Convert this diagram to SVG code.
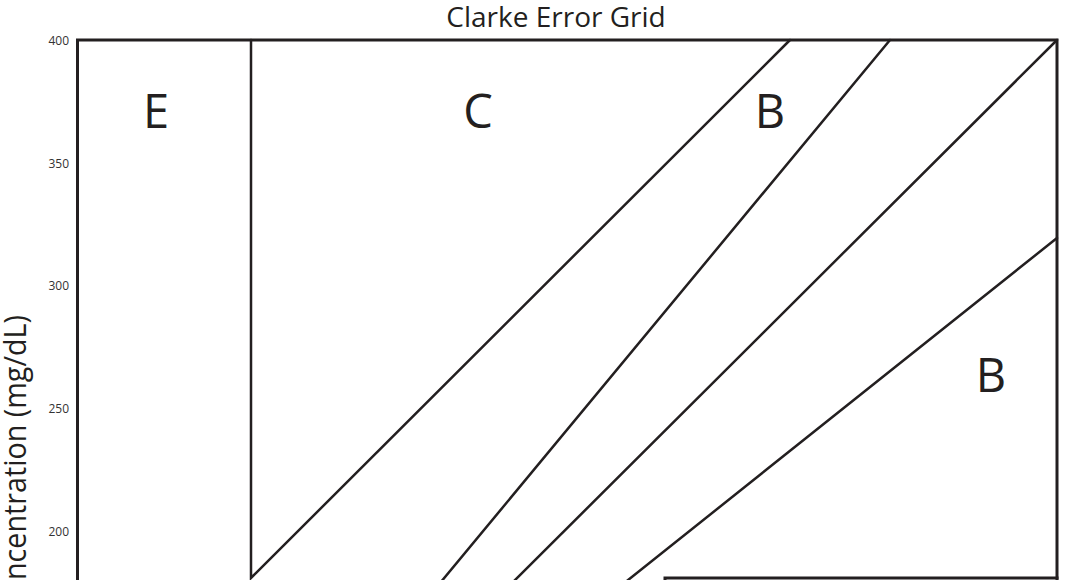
<svg xmlns="http://www.w3.org/2000/svg" width="1068" height="580" viewBox="0 0 1068 580">
  <style>
    .frame { fill: none; stroke: #231f20; stroke-width: 3; stroke-linecap: square; }
    .zone { fill: none; stroke: #231f20; stroke-width: 2.5; stroke-linecap: round; }
    .title { font-family: "Open Sans", "Noto Sans", "Liberation Sans", sans-serif; font-size: 28px; fill: #231f20; text-anchor: middle; }
    .axis { font-family: "Open Sans", "Noto Sans", "Liberation Sans", sans-serif; font-size: 31px; fill: #231f20; }
    .tick { font-family: "Open Sans", "Noto Sans", "Liberation Sans", sans-serif; font-size: 12px; fill: #333333; text-anchor: end; }
    .region { font-family: "Open Sans", "Noto Sans", "Liberation Sans", sans-serif; font-size: 47px; fill: #231f20; text-anchor: middle; }
  </style>
  <rect x="0" y="0" width="1068" height="580" fill="#ffffff"/>

  <text class="title" x="556" y="27">Clarke Error Grid</text>

  <g id="y-axis">
    <text class="axis" transform="translate(26,580) rotate(-90)" textLength="265" lengthAdjust="spacingAndGlyphs">ncentration (mg/dL)</text>
    <text class="tick" x="69" y="45">400</text>
    <text class="tick" x="69" y="168">350</text>
    <text class="tick" x="69" y="290">300</text>
    <text class="tick" x="69" y="413">250</text>
    <text class="tick" x="69" y="536">200</text>
  </g>

  <g id="frame">
    <path class="frame" d="M77.5,600 V40 H1057 V600"/>
  </g>

  <g id="connectors">
    <path class="zone" d="M251,40 V578 L790,40"/>
    <line class="zone" x1="890" y1="40" x2="426" y2="600"/>
    <line class="zone" x1="1057" y1="40" x2="495" y2="600"/>
    <line class="zone" x1="1057" y1="238" x2="603" y2="600"/>
    <path class="frame" d="M665,600 V578 H1057"/>
  </g>

  <g id="region-E"><text class="region" x="156" y="128">E</text></g>
  <g id="region-C"><text class="region" x="478" y="128">C</text></g>
  <g id="region-B-upper"><text class="region" x="770" y="128">B</text></g>
  <g id="region-B-lower"><text class="region" x="991" y="392">B</text></g>
</svg>
